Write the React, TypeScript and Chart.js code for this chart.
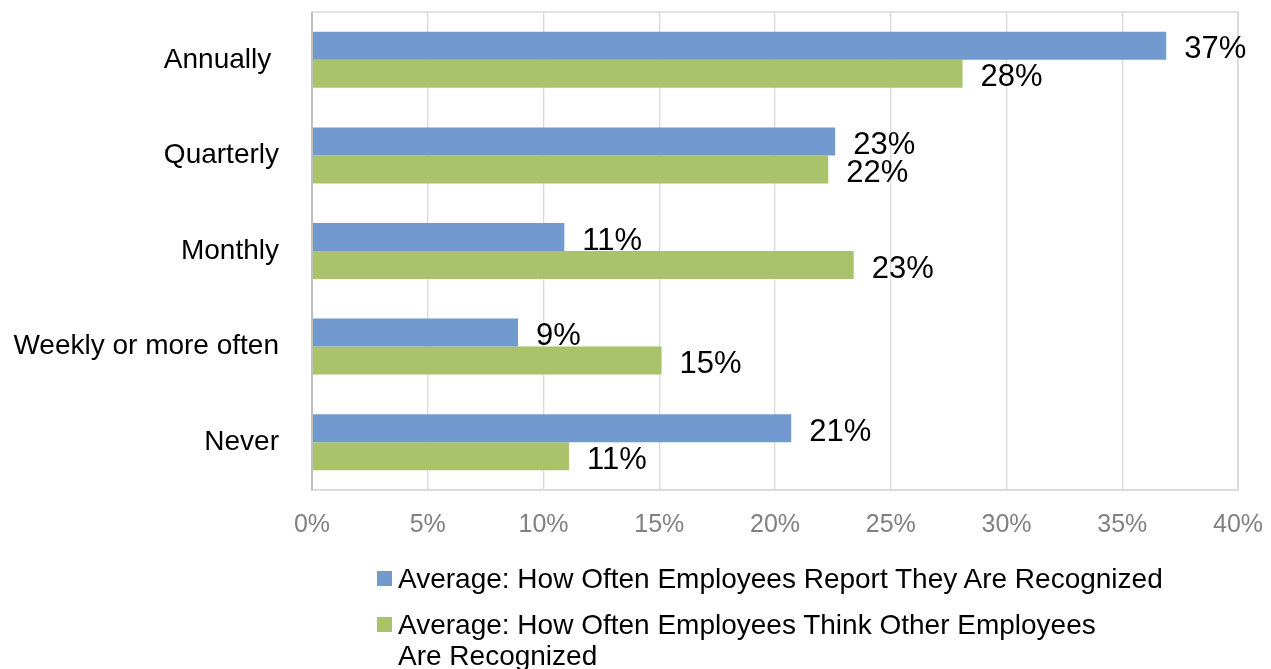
import React, { useEffect, useRef } from 'react';
import { Chart, registerables } from 'chart.js';

Chart.register(...registerables);

const categories = ['Annually ', 'Quarterly', 'Monthly', 'Weekly or more often', 'Never'];
const reportedValues = [36.9, 22.6, 10.9, 8.9, 20.7];
const othersValues = [28.1, 22.3, 23.4, 15.1, 11.1];
const seriesLabels = [
  'Average: How Often Employees Report They Are Recognized',
  'Average: How Often Employees Think Other Employees Are Recognized',
];
const seriesColors = ['#729ACF', '#AAC26A'];
const xMin = 0;
const xMax = 40;
const xStep = 5;

const FONT = '"Liberation Sans", Arial, sans-serif';

const framePlugin = {
  id: 'frame',
  beforeDatasetsDraw(chart: any) {
    const { ctx, chartArea } = chart;
    ctx.save();
    ctx.strokeStyle = '#d9d9d9';
    ctx.lineWidth = 1.5;
    ctx.strokeRect(chartArea.left, chartArea.top, chartArea.right - chartArea.left, chartArea.bottom - chartArea.top);
    ctx.restore();
  },
  afterDatasetsDraw(chart: any) {
    const { ctx, chartArea } = chart;
    ctx.save();
    ctx.strokeStyle = '#bfbfbf';
    ctx.lineWidth = 2;
    ctx.beginPath();
    ctx.moveTo(chartArea.left, chartArea.top);
    ctx.lineTo(chartArea.left, chartArea.bottom);
    ctx.stroke();
    ctx.restore();
  },
};

const valueLabelPlugin = {
  id: 'valueLabels',
  afterDatasetsDraw(chart: any) {
    const { ctx } = chart;
    ctx.save();
    ctx.font = `31px ${FONT}`;
    ctx.fillStyle = '#000000';
    ctx.textAlign = 'left';
    ctx.textBaseline = 'middle';
    chart.data.datasets.forEach((ds: any, di: number) => {
      const meta = chart.getDatasetMeta(di);
      meta.data.forEach((el: any, i: number) => {
        const v = ds.data[i];
        ctx.fillText(`${Math.round(v)}%`, el.x + 18, el.y + 4);
      });
    });
    ctx.restore();
  },
};

function LegendItem({ color, lines, top }: { color: string; lines: string[]; top: number }) {
  return (
    <div style={{ position: 'absolute', left: 377, top, fontFamily: FONT, fontSize: 28, lineHeight: '31px', color: '#000' }}>
      <div style={{ position: 'absolute', left: 0, top: 8, width: 15, height: 15, background: color }} />
      <div style={{ position: 'absolute', left: 21, top: 0, whiteSpace: 'nowrap' }}>
        {lines.map((l, i) => (
          <div key={i}>{l}</div>
        ))}
      </div>
    </div>
  );
}

const zeroPadding = (scale: any) => {
  scale.paddingTop = 0;
  scale.paddingBottom = 0;
  scale.paddingLeft = 0;
  scale.paddingRight = 0;
};

export default function App() {
  const canvasRef = useRef<HTMLCanvasElement | null>(null);

  useEffect(() => {
    if (!canvasRef.current) return;
    const chart = new Chart(canvasRef.current, {
      type: 'bar',
      data: {
        labels: categories,
        datasets: [
          { label: seriesLabels[0], data: reportedValues, backgroundColor: seriesColors[0], borderWidth: 0 },
          { label: seriesLabels[1], data: othersValues, backgroundColor: seriesColors[1], borderWidth: 0 },
        ],
      },
      options: {
        indexAxis: 'y',
        responsive: false,
        animation: false,
        maintainAspectRatio: false,
        layout: { padding: { top: 12, right: 33, left: 0, bottom: 0 } },
        datasets: { bar: { barPercentage: 1.0, categoryPercentage: 0.586 } },
        plugins: {
          legend: { display: false },
          tooltip: { enabled: false },
        },
        scales: {
          x: {
            min: xMin,
            max: xMax,
            ticks: {
              stepSize: xStep,
              padding: 20,
              color: '#808080',
              font: { family: FONT, size: 25 },
              callback: (v: any) => `${v}%`,
            },
            grid: { color: '#d9d9d9', lineWidth: 1.3, drawTicks: false },
            border: { display: true, color: '#d9d9d9', width: 1.5 },
            afterFit: (scale: any) => {
              scale.height = 669 - 490;
              zeroPadding(scale);
            },
          },
          y: {
            ticks: {
              padding: 33,
              color: '#000000',
              font: { family: FONT, size: 28 },
            },
            grid: { display: false, drawTicks: false },
            border: { display: false },
            afterFit: (scale: any) => {
              scale.width = 312;
              zeroPadding(scale);
            },
          },
        },
      },
      plugins: [framePlugin, valueLabelPlugin],
    });
    return () => chart.destroy();
  }, []);

  return (
    <div style={{ position: 'fixed', left: 0, top: 0, width: 1271, height: 669, overflow: 'hidden', background: '#fff' }}>
      <canvas ref={canvasRef} width={1271} height={669} style={{ position: 'absolute', left: 0, top: 0, width: 1271, height: 669 }} />
      <LegendItem color={seriesColors[0]} lines={[seriesLabels[0]]} top={563} />
      <LegendItem
        color={seriesColors[1]}
        lines={['Average: How Often Employees Think Other Employees', 'Are Recognized']}
        top={609}
      />
    </div>
  );
}
